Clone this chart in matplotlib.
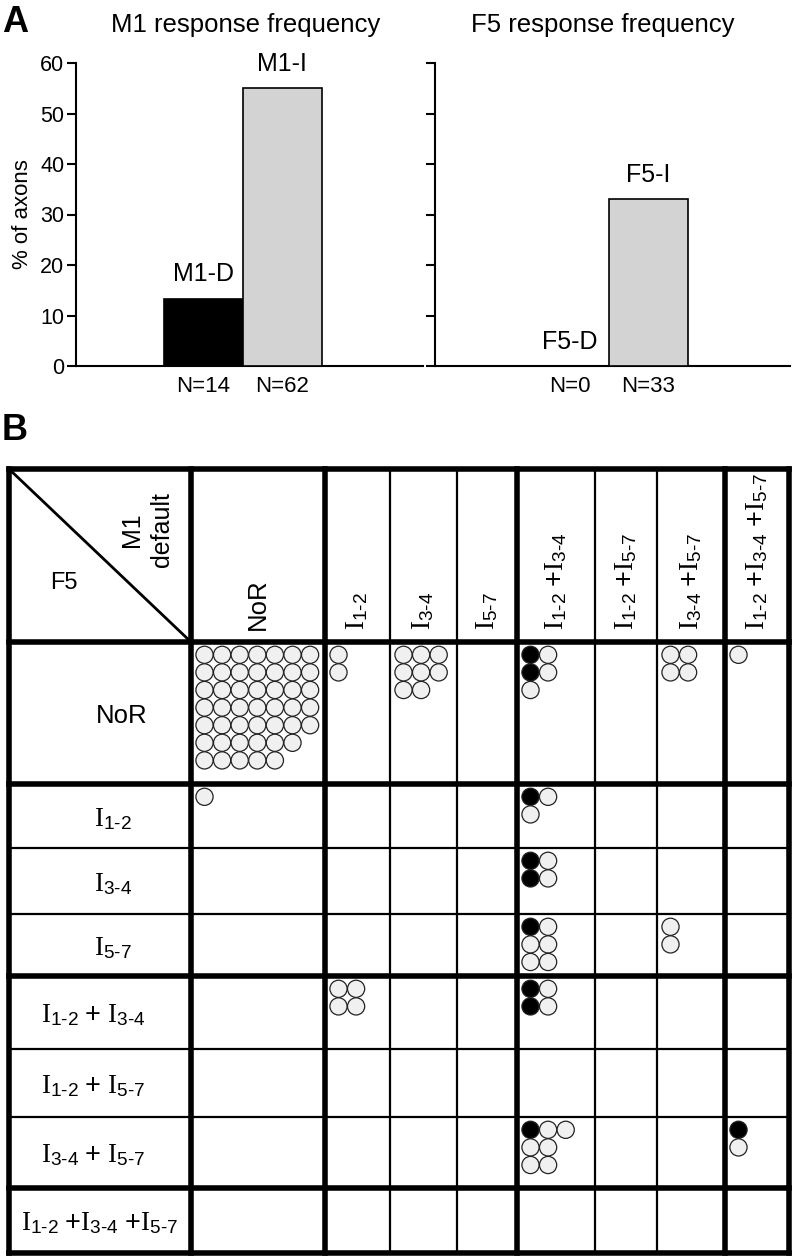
import numpy as np
import matplotlib.pyplot as plt
from matplotlib.patches import Circle

plt.rcParams['font.family'] = ['Liberation Sans', 'DejaVu Sans']
plt.rcParams['mathtext.fontset'] = 'custom'
plt.rcParams['mathtext.rm'] = 'Liberation Serif'
plt.rcParams['mathtext.sf'] = 'Liberation Sans'
plt.rcParams['mathtext.it'] = 'Liberation Serif:italic'
plt.rcParams['mathtext.bf'] = 'Liberation Serif:bold'

# panel A
m1_groups = ["M1-D", "M1-I"]
m1_pct = [13.3, 55.0]
m1_n = ["N=14", "N=62"]
f5_groups = ["F5-D", "F5-I"]
f5_pct = [0.0, 33.0]
f5_n = ["N=0", "N=33"]
bar_colors = ["black", "#d3d3d3"]

# panel B: response types (rows = F5, columns = M1 default)
response_types = ["NoR", ["1-2"], ["3-4"], ["5-7"], ["1-2", "3-4"],
                  ["1-2", "5-7"], ["3-4", "5-7"], ["1-2", "3-4", "5-7"]]
# (F5 row, M1 column) -> circles listed column by column, B = D axon, G = I axon
axon_cells = {
    (0, 0): ["GGGGGGG"] * 5 + ["GGGGGG", "GGGGG"],
    (0, 1): ["GG"],
    (0, 2): ["GGG", "GGG", "GG"],
    (0, 4): ["BBG", "GG"],
    (0, 6): ["GG", "GG"],
    (0, 7): ["G"],
    (1, 0): ["G"],
    (1, 4): ["BG", "G"],
    (2, 4): ["BB", "GG"],
    (3, 4): ["BGG", "GGG"],
    (3, 6): ["GG"],
    (4, 1): ["GG", "GG"],
    (4, 4): ["BB", "GG"],
    (6, 4): ["BGG", "GGG", "G"],
    (6, 7): ["BG"],
}

W, H = 796, 1257


def fx(px):
    return px / W


def fy(py):
    return 1 - py / H


def label(parts, sep):
    if parts == "NoR":
        return "NoR"
    terms = [r"\mathrm{I}_{\mathsf{%s}}" % p.replace("-", "\u2010") for p in parts]
    return "$" + sep.join(terms) + "$"


fig = plt.figure(figsize=(W / 100, H / 100), dpi=100)

# ---- A: bar charts
ax1 = fig.add_axes([fx(76), fy(366), fx(423) - fx(76), fy(63) - fy(366)])
ax2 = fig.add_axes([fx(435), fy(366), fx(790) - fx(435), fy(63) - fy(366)])
for ax, groups, pct, ns, xl in [(ax1, m1_groups, m1_pct, m1_n, (-1.61, 2.78)),
                               (ax2, f5_groups, f5_pct, f5_n, (-1.70, 2.79))]:
    x = np.arange(len(groups))
    ax.bar(x, pct, width=1.0, color=bar_colors, edgecolor="black",
           linewidth=1.2, zorder=3, clip_on=False)
    for xi, g, p in zip(x, groups, pct):
        ax.annotate(g, (xi, p), xytext=(0, 9), textcoords="offset points",
                    ha="center", va="bottom", fontsize=18)
    ax.set_xlim(*xl)
    ax.set_ylim(0, 60)
    ax.set_yticks(range(0, 61, 10))
    ax.set_xticks(x, ns)
    ax.spines[["top", "right"]].set_visible(False)
    for s in ["left", "bottom"]:
        ax.spines[s].set_linewidth(1.5)
    ax.tick_params(axis="y", direction="out", length=6.5, width=1.5, labelsize=15.5, pad=2)
    ax.tick_params(axis="x", length=0, pad=7, labelsize=16)
ax1.set_ylabel("% of axons", fontsize=16, labelpad=5)
ax2.tick_params(axis="y", labelleft=False)

fig.text(fx(246), fy(25), "M1 response frequency", ha="center", va="center", fontsize=18.5)
fig.text(fx(603), fy(25), "F5 response frequency", ha="center", va="center", fontsize=18.5)
fig.text(fx(2), fy(23), "A", ha="left", va="center", fontsize=26, fontweight="bold")
fig.text(fx(2), fy(431), "B", ha="left", va="center", fontsize=26, fontweight="bold")

# ---- B: table
axt = fig.add_axes([0, 0, 1, 1])
axt.set_xlim(0, W)
axt.set_ylim(H, 0)
axt.axis("off")

col_edges = [9, 191, 325, 390, 457, 517, 595, 657, 725, 789]
row_edges = [469, 642, 784, 848, 914, 976, 1049, 1117, 1188, 1253]
thick = {0, 1, 2, 5, 8, 9}
for i, xe in enumerate(col_edges):
    axt.plot([xe, xe], [row_edges[0], row_edges[-1]], color="black",
             lw=4 if i in thick else 1.6, solid_capstyle="projecting")
for i, ye in enumerate(row_edges):
    axt.plot([col_edges[0], col_edges[-1]], [ye, ye], color="black",
             lw=4 if i in thick else 1.6, solid_capstyle="projecting")
axt.plot([col_edges[0], col_edges[1]], [row_edges[0], row_edges[1]], color="black", lw=2)

axt.text(64, 583, "F5", ha="center", va="center", fontsize=17)
axt.text(147, 492, "M1\ndefault", rotation=90, ha="center", va="top",
         multialignment="center", fontsize=18, linespacing=1.3)

for j, rt in enumerate(response_types):
    xc = (col_edges[j + 1] + col_edges[j + 2]) / 2
    axt.text(xc, 630, label(rt, r"\ \mathsf{+}"), rotation=90, ha="center",
             va="bottom", fontsize=18.5 if rt == "NoR" else 19.5)

label_x = [122, 113, 113, 113, 93, 93, 93, 100]
for i, rt in enumerate(response_types):
    yc = (row_edges[i + 1] + row_edges[i + 2]) / 2 + 3
    sep = r"\ \mathsf{+}\ " if len(rt) == 2 else r"\ \mathsf{+}"
    axt.text(label_x[i], yc, label(rt, sep), ha="center", va="center",
             fontsize=18.5 if rt == "NoR" else 19.5)

pitch, rad = 17.6, 8.6
for (r, c), cols in axon_cells.items():
    x0 = col_edges[c + 1] + 13.5
    y0 = row_edges[r + 1] + 12.8
    for k, colstr in enumerate(cols):
        for m, ch in enumerate(colstr):
            axt.add_patch(Circle((x0 + k * pitch, y0 + m * pitch), rad,
                                 facecolor="black" if ch == "B" else "#f0f0f0",
                                 edgecolor="#222222", linewidth=0.9))

fig.savefig("out.png", dpi=100)
